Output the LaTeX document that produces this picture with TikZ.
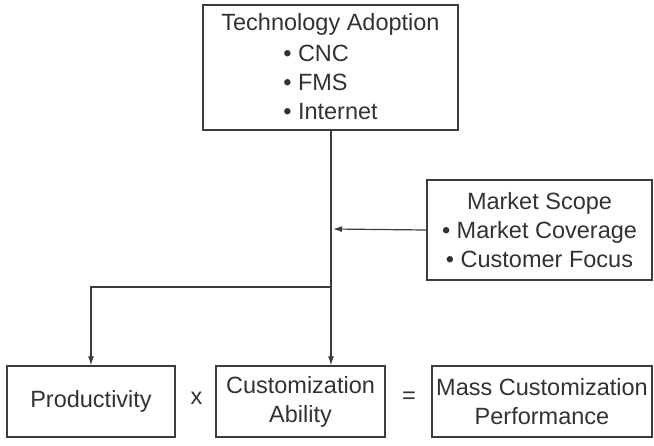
\documentclass[tikz,border=0pt]{standalone}
\usepackage{fontspec}
\setmainfont{Liberation Sans}
\usetikzlibrary{arrows.meta}
\definecolor{linegray}{RGB}{60,60,60}
\definecolor{textgray}{RGB}{50,50,50}
\tikzset{
  box/.style={draw=linegray, line width=1.4pt, text=textgray, align=center,
    inner sep=0pt, font=\fontsize{23.5}{29}\selectfont},
  link/.style={draw=linegray, line width=1.2pt, -{Latex[length=9pt,width=6pt]}},
  op/.style={text=textgray, font=\fontsize{23.5}{29}\selectfont}
}
\begin{document}
\begin{tikzpicture}[x=1pt,y=-1pt]
  \useasboundingbox (0,0) rectangle (654,445);

  % top boxes
  \node[box, minimum width=255, minimum height=125] (tech) at (330.5,67.5)
    {\rule{0pt}{23pt}Technology Adoption\\[5pt]
     \begin{tabular}{@{}l@{}}• CNC\\ • FMS\\ • Internet\end{tabular}};
  \node[box, minimum width=225, minimum height=100] (scope) at (539.5,230)
    {Market Scope\\ • Market Coverage\\ • Customer Focus};

  % result boxes
  \node[box, minimum width=168, minimum height=71] (prod) at (91,401.5) {Productivity};
  \node[box, minimum width=169, minimum height=71] (cust) at (300.5,401.5)
    {Customization\\ Ability};
  \node[box, minimum width=220, minimum height=71] (mass) at (542,401.5)
    {Mass Customization\\ Performance};

  % operators
  \node[op] (times) at (196.5,398) {x};
  \node[op] (equals) at (409,398) {=};

  % connectors
  \coordinate (join) at (331,229);
  \coordinate (split) at (331,287);
  \draw[link] (tech.south -| join) -- (join |- cust.north);
  \draw[link] (scope.west) -- ([xshift=2pt]join);
  \draw[link] (split) -- (split -| prod) -- (prod.north);
\end{tikzpicture}
\end{document}
